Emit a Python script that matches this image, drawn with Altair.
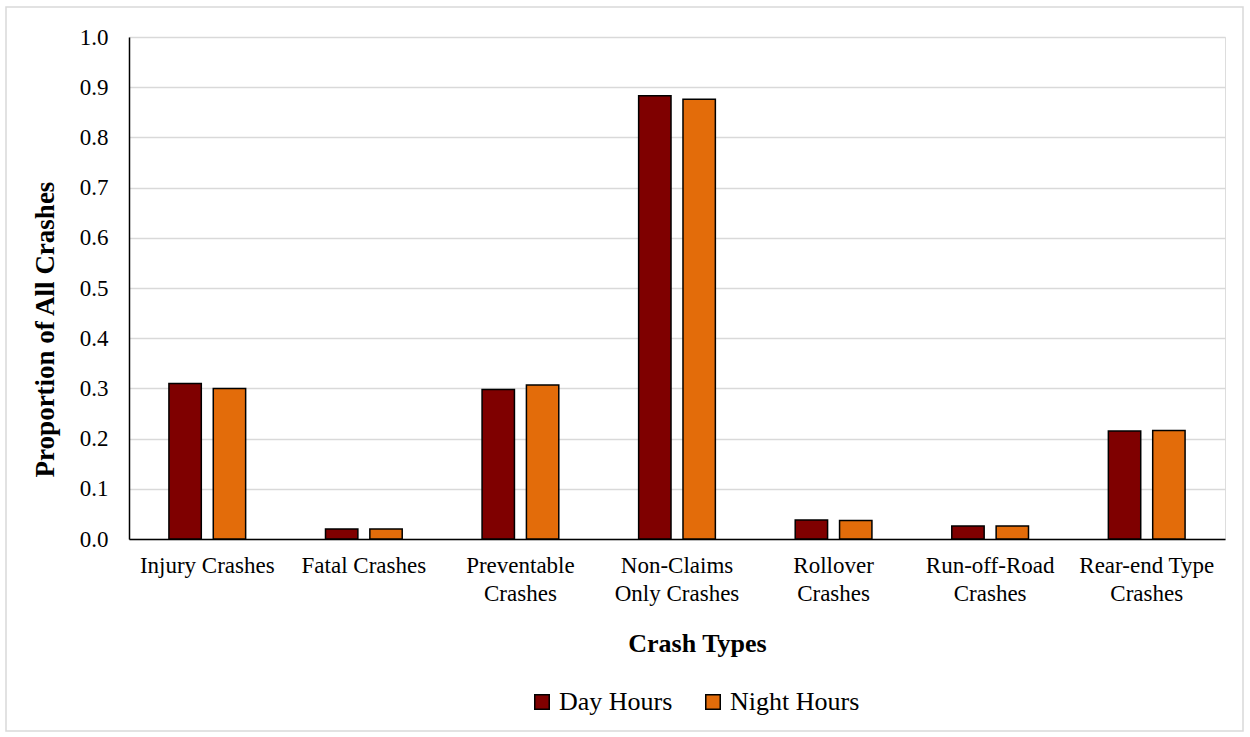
import altair as alt
import pandas as pd

categories = ["Injury Crashes", "Fatal Crashes", "Preventable|Crashes", "Non-Claims|Only Crashes",
              "Rollover|Crashes", "Run-off-Road|Crashes", "Rear-end Type|Crashes"]
day_values = [0.310, 0.020, 0.298, 0.883, 0.038, 0.026, 0.215]
night_values = [0.300, 0.020, 0.307, 0.876, 0.037, 0.026, 0.216]
series = ["Day Hours", "Night Hours"]
colors = ["#7F0000", "#E36C0A"]
y_ticks = [round(i * 0.1, 1) for i in range(11)]

rows = []
for c, d, n in zip(categories, day_values, night_values):
    rows.append({"cat": c, "series": series[0], "value": d})
    rows.append({"cat": c, "series": series[1], "value": n})
df = pd.DataFrame(rows)

FONT = "Liberation Serif"

bars = alt.Chart(df).mark_bar(stroke="black", strokeWidth=1.5).encode(
    x=alt.X("cat:N", sort=categories,
            scale=alt.Scale(paddingInner=0.51, paddingOuter=0.255),
            axis=alt.Axis(title="Crash Types", labelAngle=0, labelExpr="split(datum.label, '|')",
                          labelFont=FONT, labelFontSize=23, labelColor="black", labelPadding=15,
                          labelLineHeight=28,
                          titleFont=FONT, titleFontSize=26, titleFontWeight="bold", titleColor="black",
                          titlePadding=25, titleX=568, ticks=False, domainColor="black", domainWidth=1.5)),
    xOffset=alt.XOffset("series:N", sort=series, scale=alt.Scale(paddingInner=0.27, paddingOuter=0)),
    y=alt.Y("value:Q", scale=alt.Scale(domain=[0, 1.0], nice=False),
            axis=alt.Axis(title="Proportion of All Crashes", values=y_ticks, format=".1f",
                          labelFont=FONT, labelFontSize=23, labelColor="black", labelPadding=21,
                          titleFont=FONT, titleFontSize=27, titleFontWeight="bold", titleColor="black",
                          titlePadding=20, titleY=292, ticks=False, domainColor="black", domainWidth=1.5,
                          gridColor="#d9d9d9", gridWidth=1.5)),
    color=alt.Color("series:N", sort=series, scale=alt.Scale(domain=series, range=colors),
                    legend=alt.Legend(title=None, orient="none", direction="horizontal",
                                      legendX=400, legendY=652, symbolType="square", symbolSize=210,
                                      symbolStrokeColor="black", symbolStrokeWidth=1.5, symbolOpacity=1,
                                      labelFont=FONT, labelFontSize=26, labelColor="black",
                                      labelOffset=4, columnPadding=27)),
)

border = alt.Chart(alt.Data(values=[{"a": 1}])).mark_rect(
    fill=None, stroke="#d9d9d9", strokeWidth=1.5
).encode(
    x=alt.value(6 - 129), x2=alt.value(1243 - 129),
    y=alt.value(7 - 37), y2=alt.value(731 - 37),
)

chart = alt.layer(border, bars).properties(
    width=1096, height=502,
    autosize=alt.AutoSizeParams(type="none"),
    padding={"left": 129, "top": 37, "right": 25, "bottom": 198},
).configure_view(stroke=None).configure(background="white", font=FONT).configure_legend(
    labelFont=FONT
).configure_axis(labelFont=FONT, titleFont=FONT)

chart.save("out.html", embed_options={"renderer": "svg", "actions": False})
